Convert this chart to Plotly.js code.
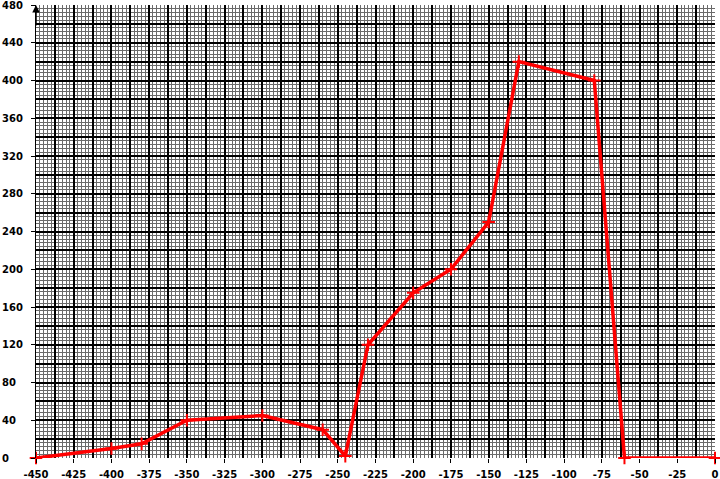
<!DOCTYPE html>
<html><head><meta charset="utf-8">
<script src="https://cdn.plot.ly/plotly-3.0.1.min.js"></script>
<style>html,body{margin:0;padding:0;background:#fff}</style>
</head><body><div id="chart" style="width:720px;height:479px"></div>
<script>
const xValues = [-450, -400, -380, -350, -300, -260, -245, -230, -200, -175, -150, -130, -80, -60, 0];
const yValues = [0, 10, 15, 40, 45, 30, 2, 120, 175, 200, 250, 420, 400, 0, 0];
const xTickValues = [-450, -425, -400, -375, -350, -325, -300, -275, -250, -225, -200, -175, -150, -125, -100, -75, -50, -25, 0];
const xTickLabels = ['-450', '-425', '-400', '-375', '-350', '-325', '-300', '-275', '-250', '-225', '-200', '-175', '-150', '-125', '-100', '-75', '-50', '-25', '0'];
const yTickValues = [0, 40, 80, 120, 160, 200, 240, 280, 320, 360, 400, 440, 480];
const yTickLabels = ['0', '40', '80', '120', '160', '200', '240', '280', '320', '360', '400', '440', '480'];

const W = 720, H = 479, ML = 36, MR = 5, MT = 5, MB = 21;
const labelFont = {family: 'DejaVu Sans', size: 10, color: '#000', weight: 'bold'};

const traces = [
  {x: [], y: [], xaxis: 'x2', yaxis: 'y2', type: 'scatter', mode: 'lines', showlegend: false, hoverinfo: 'skip'},
  {
    x: xValues, y: yValues, type: 'scatter', mode: 'lines+markers',
    line: {color: '#ff0000', width: 3.5},
    marker: {symbol: 'cross-thin', size: 9, color: '#ff0000', line: {color: '#ff0000', width: 2}},
    showlegend: false, cliponaxis: false
  }
];

const annotations = yTickValues.map((v, i) => ({
  xref: 'paper', yref: 'y', x: -ML / (W - ML - MR), y: v,
  xanchor: 'left', yanchor: 'middle', text: yTickLabels[i],
  showarrow: false, font: labelFont
}));
annotations.push({
  xref: 'x', yref: 'y', x: -450, y: 480, ax: 0, ay: 22, text: '',
  showarrow: true, arrowhead: 2, arrowsize: 1, arrowwidth: 1.5, arrowcolor: '#000', standoff: 0
});

const layout = {
  width: W, height: H,
  margin: {l: ML, r: MR, t: MT, b: MB, pad: 0},
  paper_bgcolor: '#fff', plot_bgcolor: '#fff',
  showlegend: false,
  xaxis: {
    range: [-450, 0], tickmode: 'array', tickvals: xTickValues, ticktext: xTickLabels,
    ticks: 'outside', ticklen: 4, tickwidth: 1, tickcolor: '#000',
    showgrid: true, gridcolor: '#000', gridwidth: 2, zeroline: false, showline: false,
    tickfont: labelFont, ticklabelstandoff: 3, fixedrange: true
  },
  yaxis: {
    range: [0, 480], tickmode: 'array', tickvals: yTickValues,
    ticks: 'outside', ticklen: 4, tickwidth: 1, tickcolor: '#000',
    showticklabels: false,
    showgrid: true, gridcolor: '#000', gridwidth: 2, zeroline: false,
    showline: true, linecolor: '#000', linewidth: 1, fixedrange: true
  },
  xaxis2: {
    overlaying: 'x', range: [-450, 0], tickmode: 'linear', tick0: -450, dtick: 12.5,
    showgrid: true, gridcolor: '#000', gridwidth: 2, ticks: '', showticklabels: false, zeroline: false,
    minor: {tickmode: 'linear', tick0: -450, dtick: 2.5, showgrid: true, gridcolor: '#6a6a6a', gridwidth: 1, ticks: ''},
    fixedrange: true
  },
  yaxis2: {
    overlaying: 'y', range: [0, 480], tickmode: 'linear', tick0: 0, dtick: 20,
    showgrid: true, gridcolor: '#000', gridwidth: 2, ticks: '', showticklabels: false, zeroline: false,
    minor: {tickmode: 'linear', tick0: 0, dtick: 4, showgrid: true, gridcolor: '#6a6a6a', gridwidth: 1, ticks: ''},
    fixedrange: true
  },
  annotations: annotations
};

Plotly.newPlot('chart', traces, layout, {displayModeBar: false, staticPlot: true});
</script>
</body></html>
